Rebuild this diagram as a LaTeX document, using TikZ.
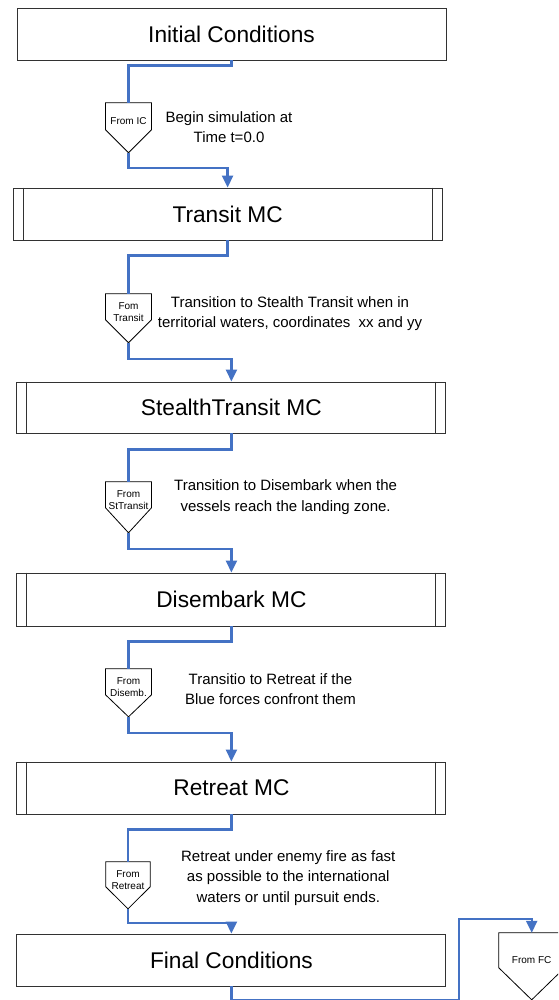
\documentclass[tikz,border=0pt]{standalone}
\usepackage{fontspec}
\setmainfont{Liberation Sans}
\usetikzlibrary{arrows.meta,calc}
\definecolor{connblue}{RGB}{68,114,196}
\definecolor{boxline}{RGB}{50,50,50}
\newcommand\pentout[3]{%
  \draw[pentline] (#1.north west) -- (#1.north east) -- ($(#1.north east)+(0,#2)$)
    -- ($(#1.north)+(0,#3)$) -- ($(#1.north west)+(0,#2)$) -- cycle;
  \coordinate (#1tip) at ($(#1.north)+(0,#3)$);}
\newcommand\innerbars[1]{%
  \draw[boxlinestyle] ($(#1.north west)+(10.5,0)$) -- ($(#1.south west)+(10.5,0)$);
  \draw[boxlinestyle] ($(#1.north east)+(-10.5,0)$) -- ($(#1.south east)+(-10.5,0)$);}
\begin{document}
\begin{tikzpicture}[x=1pt,y=-1pt,
  boxlinestyle/.style={draw=boxline,line width=0.95pt},
  box/.style={boxlinestyle,minimum width=429pt,minimum height=52pt,inner sep=0pt,
    font=\fontsize{22.7}{27}\selectfont},
  conn/.style={draw=connblue,line width=2.4pt},
  arr/.style={conn,-{Triangle[length=12pt,width=11pt]}},
  pentline/.style={draw=black,line width=0.8pt},
  pent/.style={minimum width=45.5pt,minimum height=36pt,inner sep=0pt,align=center,
    font=\fontsize{10}{12.5}\selectfont},
  note/.style={align=center,font=\fontsize{15}{20.5}\selectfont}]
\path[use as bounding box] (0,0) rectangle (558,1000);
\clip (0,0) rectangle (558,1000);

% main boxes
\node[box] (ic) at (231.5,34) {Initial Conditions};
\node[box] (transit) at (227.6,214) {Transit MC};
\node[box,minimum height=51pt] (stealth) at (231.4,407.5) {StealthTransit MC};
\node[box,minimum height=53pt] (disembark) at (231.4,599.5) {Disembark MC};
\node[box] (retreat) at (231.4,788) {Retreat MC};
\node[box] (fc) at (231.4,960) {Final Conditions};
\innerbars{transit}
\innerbars{stealth}
\innerbars{disembark}
\innerbars{retreat}

% off-page connectors
\node[pent] (p1) at (128.5,121) {From IC};
\pentout{p1}{27}{50}
\node[pent] (p2) at (128.5,312) {Fom\\Transit};
\pentout{p2}{26}{49}
\node[pent] (p3) at (128.5,500) {From\\StTransit};
\pentout{p3}{26}{51}
\node[pent] (p4) at (128.5,687) {From\\Disemb.};
\pentout{p4}{26}{48}
\node[pent,minimum width=44pt] (p5) at (128,880) {From\\Retreat};
\pentout{p5}{25}{47}
\node[pent,minimum width=65.4pt,minimum height=54pt] (pfc) at (531.7,960) {From FC};
\pentout{pfc}{35}{67}

% notes
\node[note] (n1) at (229,127) {Begin simulation at\\Time t=0.0};
\node[note] (n2) at (290,313.5) {Transition to Stealth Transit when in\\territorial waters, coordinates\ \ xx and yy};
\node[note] (n3) at (285.6,497) {Transition to Disembark when the\\vessels reach the landing zone.};
\node[note] (n4) at (270.5,689) {Transitio to Retreat if the\\Blue forces confront them};
\node[note] (n5) at (288.3,878) {Retreat under enemy fire as fast\\as possible to the international\\waters or until pursuit ends.};

% connectors
\draw[conn] (ic.south) -- ++(0,5) -| (p1.north);
\draw[arr] (p1tip) -- ++(0,15) -| (transit.north);
\draw[conn] (transit.south) -- ++(0,15) -| (p2.north);
\draw[arr] (p2tip) -- ++(0,16) -| (stealth.north);
\draw[conn] (stealth.south) -- ++(0,16) -| (p3.north);
\draw[arr] (p3tip) -- ++(0,16) -| (disembark.north);
\draw[conn] (disembark.south) -- ++(0,15) -| (p4.north);
\draw[arr] (p4tip) -- ++(0,16) -| (retreat.north);
\draw[conn] (retreat.south) -- ++(0,15) -| (p5.north);
\draw[arr] (p5tip) -- ++(0,14) -| (fc.north);
\coordinate (fcturn) at (459,919);
\draw[arr] (fc.south) -- ++(0,13.5) -| (fcturn) -| (pfc.north);
\end{tikzpicture}
\end{document}
